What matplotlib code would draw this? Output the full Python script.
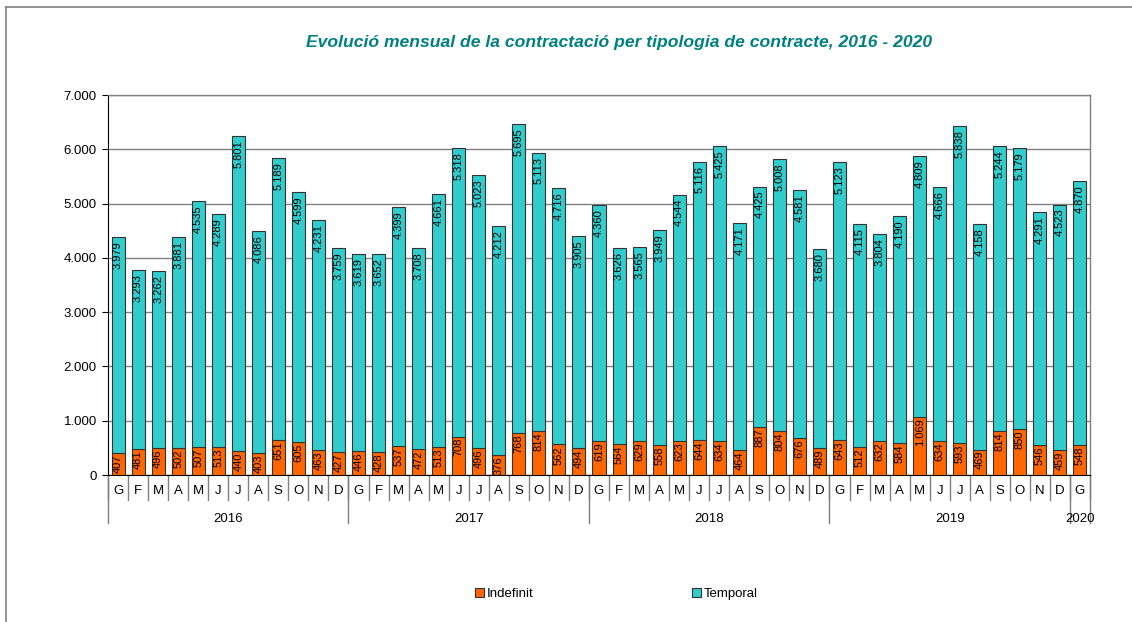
import matplotlib
matplotlib.use("Agg")
import matplotlib.pyplot as plt
import matplotlib.transforms as mtransforms
from matplotlib.lines import Line2D
from matplotlib.patches import Patch
import numpy as np

plt.rcParams['font.family'] = ['Liberation Sans', 'DejaVu Sans']

months = ["G", "F", "M", "A", "M", "J", "J", "A", "S", "O", "N", "D"] * 4 + ["G"]
years = ["2016", "2017", "2018", "2019", "2020"]
year_counts = [12, 12, 12, 12, 1]

indefinit = [407, 481, 496, 502, 507, 513, 440, 403, 651, 605, 463, 427,
             446, 428, 537, 472, 513, 708, 496, 376, 768, 814, 562, 494,
             619, 564, 629, 558, 623, 644, 634, 464, 887, 804, 676, 489,
             643, 512, 632, 584, 1069, 634, 593, 469, 814, 850, 546, 459,
             548]
temporal = [3979, 3293, 3262, 3881, 4535, 4289, 5801, 4086, 5189, 4599, 4231, 3759,
            3619, 3652, 4399, 3708, 4661, 5318, 5023, 4212, 5695, 5113, 4716, 3905,
            4360, 3626, 3565, 3949, 4544, 5116, 5425, 4171, 4425, 5008, 4581, 3680,
            5123, 4115, 3804, 4190, 4809, 4666, 5838, 4158, 5244, 5179, 4291, 4523,
            4870]

yticks = [0, 1000, 2000, 3000, 4000, 5000, 6000, 7000]

C_IND = "#FF6600"
C_TEM = "#33CCCC"
GRAY = "#808080"

def fmt(v):
    return f"{v:,}".replace(",", ".")

fig = plt.figure(figsize=(11.32, 6.22), dpi=100)
ax = fig.add_axes([108 / 1132, 1 - 475 / 622, (1090 - 108) / 1132, (475 - 95) / 622])

x = np.arange(len(indefinit))
w = 0.65
ax.bar(x, indefinit, width=w, color=C_IND, edgecolor="#333333", linewidth=0.8, zorder=3, label="Indefinit")
ax.bar(x, temporal, width=w, bottom=indefinit, color=C_TEM, edgecolor="#333333", linewidth=0.8, zorder=3, label="Temporal")

for xi, a, b in zip(x, indefinit, temporal):
    ax.annotate(fmt(a), (xi, a), xytext=(0, -1), textcoords="offset points",
                rotation=90, ha="center", va="top", fontsize=8, zorder=4)
    ax.annotate(fmt(b), (xi, a + b), xytext=(0, -3), textcoords="offset points",
                rotation=90, ha="center", va="top", fontsize=8, zorder=4)

ax.set_xlim(-0.5, len(x) - 0.5)
ax.set_ylim(0, 7000)
ax.set_yticks(yticks)
ax.set_yticklabels([fmt(v) for v in yticks], fontsize=9.5)
ax.yaxis.grid(True, color=GRAY, linewidth=1.0, zorder=0)
ax.set_axisbelow(True)
for s in ["top", "right"]:
    ax.spines[s].set_color(GRAY)
    ax.spines[s].set_linewidth(1.0)
ax.spines["left"].set_color("black")
ax.spines["bottom"].set_color("black")
ax.tick_params(axis="y", length=4, width=0.8, pad=4)
ax.set_xticks(x)
ax.set_xticklabels(months, fontsize=9.5)
ax.tick_params(axis="x", length=0, pad=7)

trans = mtransforms.blended_transform_factory(ax.transData, ax.transAxes)
for i in range(len(x) + 1):
    ax.add_line(Line2D([i - 0.5, i - 0.5], [0, -0.066], transform=trans, color=GRAY,
                       linewidth=1.0, clip_on=False))
start = 0
for yr, n in zip(years, year_counts):
    ax.add_line(Line2D([start - 0.5, start - 0.5], [0, -0.127], transform=trans, color=GRAY,
                       linewidth=1.0, clip_on=False))
    ax.text(start + (n - 1) / 2, -0.116, yr, transform=trans, ha="center", va="center", fontsize=9.5)
    start += n
ax.add_line(Line2D([start - 0.5, start - 0.5], [0, -0.127], transform=trans, color=GRAY,
                   linewidth=1.0, clip_on=False))

fig.text(0.547, 1 - 43 / 622,
         "Evolució mensual de la contractació per tipologia de contracte, 2016 - 2020",
         ha="center", va="center", fontsize=12.6, fontweight="bold", style="italic", color="#008080")

handles = [Patch(facecolor=C_IND, edgecolor="#333333", linewidth=0.8, label="Indefinit"),
           Patch(facecolor=C_TEM, edgecolor="#333333", linewidth=0.8, label="Temporal")]
fig.legend(handles=handles, loc="center", bbox_to_anchor=(0.5446, 1 - 594 / 622), ncol=2,
           frameon=False, fontsize=9.5, handlelength=0.7, handleheight=0.7, handletextpad=0.2,
           columnspacing=12.0, borderpad=0, borderaxespad=0)

fig.add_artist(Line2D([6 / 1132, 6 / 1132], [0, 1 - 7 / 622], transform=fig.transFigure, color=GRAY, linewidth=1.2))
fig.add_artist(Line2D([6 / 1132, 1], [1 - 7 / 622, 1 - 7 / 622], transform=fig.transFigure, color=GRAY, linewidth=1.2))

fig.savefig("out.png", dpi=100)
